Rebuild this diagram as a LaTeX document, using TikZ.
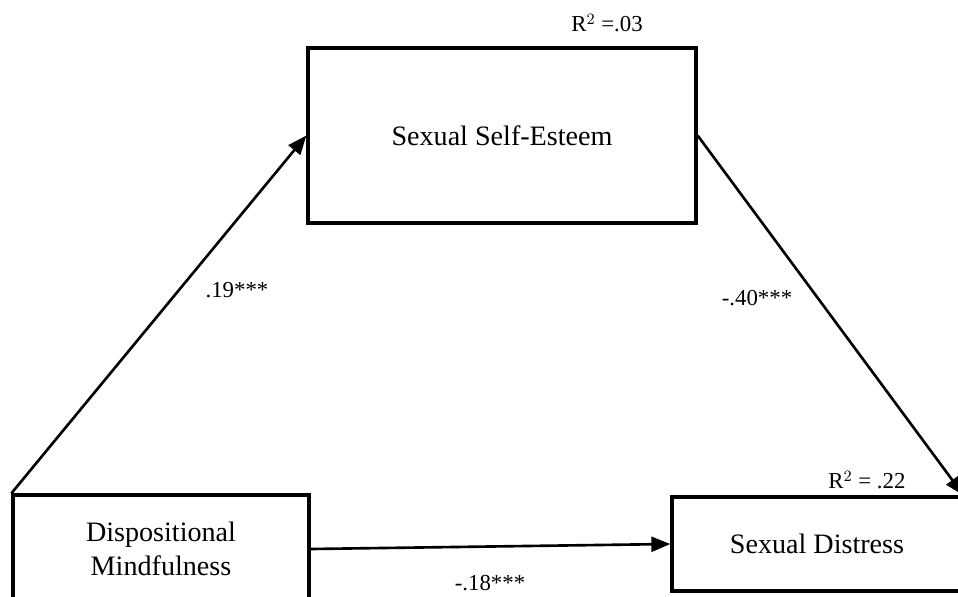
\documentclass[tikz,border=0pt]{standalone}
\usepackage{fontspec}
\setmainfont{Liberation Serif}
\usepackage{tikz}
\usetikzlibrary{arrows.meta}

\tikzset{
    varbox/.style={draw, line width=1.9pt, align=center, font=\fontsize{16}{19}\selectfont},
    path/.style={line width=1.5pt, -{Triangle[length=3.8mm,width=3mm]}},
    coef/.style={font=\fontsize{13}{15}\selectfont}
}

\begin{document}
\begin{tikzpicture}[x=0.02cm, y=-0.02cm]
        % Frame of the figure
        \useasboundingbox (0,0) rectangle (958,596);
        \clip (0,0) rectangle (958,596);

            % Variables
            \node[varbox, minimum width=7.76cm, minimum height=3.5cm] (esteem) at (502,135.5) {Sexual Self-Esteem};
            \node[varbox, minimum width=5.92cm, minimum height=2.16cm] (mind) at (161,549) {Dispositional\\Mindfulness};
            \node[varbox, minimum width=5.8cm, minimum height=1.88cm] (distress) at (817,544) {Sexual Distress};

            % Paths
            \draw[path] (mind.north west) -- (esteem.west);
            \draw[path] (esteem.east) -- (distress.north east);
            \draw[path] (mind.east) -- (distress.west);

            % Coefficients
            \node[coef] (a) at (237,290) {.19***};
            \node[coef] (b) at (757,298) {-.40***};
            \node[coef] (c) at (490,583) {-.18***};

            % Explained variance
            \node[coef] (r1) at (607,23) {R$^2$ =.03};
            \node[coef] (r2) at (867,480) {R$^2$ = .22};
        \end{tikzpicture}
\end{document}
